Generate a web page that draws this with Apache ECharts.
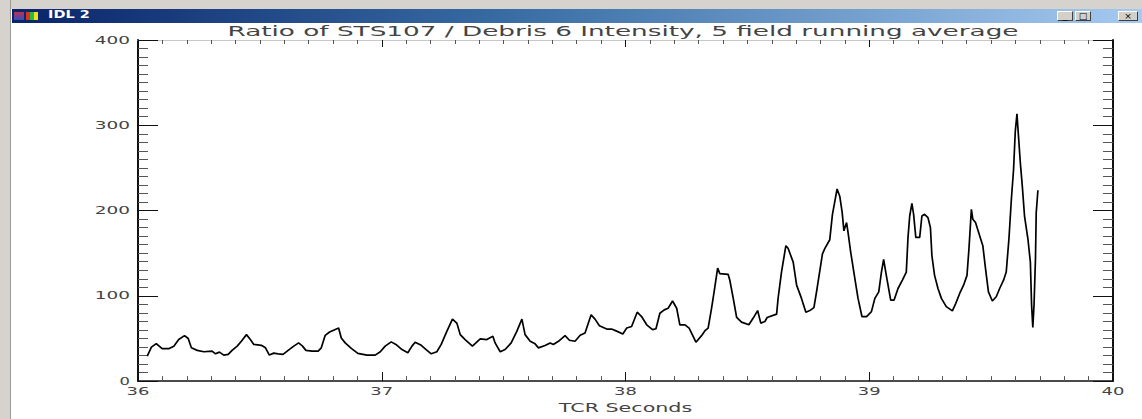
<!DOCTYPE html>
<html>
<head>
<meta charset="utf-8">
<script src="https://cdn.jsdelivr.net/npm/echarts@6/dist/echarts.min.js"></script>
<style>
  html, body { margin: 0; padding: 0; background: #fff; }
  #frame { position: relative; width: 1142px; height: 419px; overflow: hidden; background: #fff; }
  #chart { position: absolute; left: 0; top: 0; width: 1142px; height: 419px; z-index: 1; }
  .chrome { position: absolute; z-index: 2; }
  #edgeTop { left: 0; top: 0; width: 1142px; height: 9px; background: #d6d3ce; }
  #edgeLeft { left: 0; top: 0; width: 10px; height: 419px; background: #d6d3ce; border-right: 1px solid #9a9a9a; }
  #titlebar { left: 12px; top: 9px; width: 1130px; height: 14px;
              background: linear-gradient(to right, #0a246a 0%, #3a6ea5 45%, #a6caf0 100%); }
  #wintitle { left: 48px; top: 9px; height: 14px; line-height: 14px; color: #fff;
              font: bold 10px "DejaVu Sans", sans-serif; transform: scaleX(1.45); transform-origin: left center; }
  #icon { left: 14px; top: 12px; width: 26px; height: 8px; }
  #icon span { position: absolute; top: 0; height: 8px; }
  .btn { top: 11px; height: 10px; background: #d4d0c8; border: 1px solid; border-color: #fff #404040 #404040 #fff;
         box-sizing: border-box; font: 9px "DejaVu Sans", sans-serif; color: #000; text-align: center; line-height: 8px; }
</style>
</head>
<body>
<div id="frame">
  <div id="chart"></div>
  <div class="chrome" id="edgeTop"></div>
  <div class="chrome" id="edgeLeft"></div>
  <div class="chrome" id="titlebar"></div>
  <div class="chrome" id="icon">
    <span style="left:0;width:10px;background:linear-gradient(#c03050,#3050c0);"></span>
    <span style="left:12px;width:4px;background:#e03020;"></span>
    <span style="left:16px;width:4px;background:#20c040;"></span>
    <span style="left:20px;width:4px;background:#f0e020;"></span>
  </div>
  <div class="chrome" id="wintitle">IDL 2</div>
  <div class="chrome btn" style="left:1057px;width:16px;">_</div>
  <div class="chrome btn" style="left:1075px;width:16px;">□</div>
  <div class="chrome btn" style="left:1118px;width:20px;">×</div>
</div>
<script>
// Ratio of STS107 / Debris 6 intensity (5-field running average) versus TCR time
const times = [36.038,36.055,36.075,36.099,36.126,36.147,36.167,36.191,36.206,36.219,36.243,36.270,36.304,36.318,36.334,36.352,36.370,36.386,36.407,36.424,36.445,36.461,36.475,36.506,36.523,36.539,36.557,36.575,36.595,36.616,36.639,36.659,36.675,36.689,36.714,36.739,36.752,36.768,36.786,36.807,36.823,36.834,36.850,36.875,36.902,36.939,36.973,36.994,37.014,37.039,37.058,37.083,37.107,37.124,37.137,37.162,37.182,37.203,37.226,37.244,37.267,37.290,37.308,37.322,37.342,37.372,37.404,37.431,37.456,37.465,37.486,37.506,37.531,37.554,37.575,37.588,37.609,37.629,37.643,37.670,37.691,37.704,37.725,37.752,37.770,37.793,37.814,37.834,37.859,37.875,37.893,37.923,37.943,37.966,37.989,38.005,38.025,38.048,38.066,38.087,38.111,38.125,38.141,38.159,38.175,38.193,38.210,38.223,38.244,38.261,38.289,38.312,38.326,38.339,38.353,38.364,38.378,38.387,38.421,38.428,38.442,38.456,38.476,38.506,38.524,38.542,38.555,38.572,38.581,38.620,38.626,38.640,38.658,38.667,38.688,38.702,38.722,38.740,38.756,38.773,38.786,38.808,38.818,38.838,38.849,38.859,38.868,38.879,38.889,38.896,38.907,38.913,38.924,38.941,38.954,38.970,38.989,39.009,39.023,39.039,39.050,39.059,39.070,39.088,39.102,39.118,39.136,39.152,39.159,39.166,39.175,39.182,39.191,39.207,39.216,39.227,39.241,39.251,39.257,39.268,39.282,39.296,39.316,39.341,39.355,39.371,39.387,39.401,39.409,39.419,39.425,39.436,39.453,39.466,39.477,39.489,39.505,39.521,39.535,39.551,39.562,39.573,39.583,39.592,39.599,39.606,39.611,39.620,39.628,39.637,39.651,39.661,39.666,39.671,39.676,39.682,39.685,39.692];
const ratio = [29.3,39.8,44,38,38,41,48.7,53.3,50,39,36,34.4,35.2,32,34,30.5,31.3,36,41,46.7,54.5,48.7,43,42,39,30.5,32.8,32,31.3,36,41,44.8,41,36,35.2,35.2,39,53.7,57.6,60.3,62.2,50.6,44.8,38.3,32.5,30.5,30.5,34.4,41,46,43,37,33.2,41,45.6,42,37,32,34.4,43,58.3,72.7,68,54.5,48.7,41,49.5,48.7,52.5,44.8,34.4,37,44.8,58.3,72.7,54.5,46.7,43.7,39,41.7,44.8,43,46.7,53.3,47.9,46.7,53.7,56.4,77.7,72.7,65,61,61,58.3,55.3,62.2,64.1,80.8,75.7,66,60.3,61.4,79.6,83.5,85.4,93.9,85.4,66,66,62.2,45.6,53.3,59.1,62.2,85.4,105.5,132.5,126,125.2,118.3,97,74.6,69.2,66,73.9,82.7,68,69.9,74.6,78.5,97,127.9,158.8,155.7,139.5,112.5,97,80.8,82.7,86.1,108.6,149.2,155.7,165.8,195.6,211,225.3,216.8,197.5,176.2,185.9,174.3,151,120.2,97,75.7,75.7,81.5,97,104.7,127.9,142.6,124,95,95,108.6,118.3,127.9,168.5,193.6,208.3,195.6,168.5,168.5,193.6,195.6,191.6,180,147.2,124,108.6,97,87.3,82.3,91.2,102.8,112.5,124,155,201.4,189.8,185.9,170.4,158.8,131.8,104.7,93.9,98.9,108.6,118.3,127.9,166.6,213,247.8,292.2,313.4,292.2,255.4,228.4,193.6,166.6,139.5,89.3,63,89.3,144.1,197.5,223.8];

const xRange = [36, 40];
const yRange = [0, 400];
const plotTitle = 'Ratio of STS107 / Debris 6 Intensity, 5 field running average';
const xName = 'TCR Seconds';

const FONT = '"DejaVu Sans", "Liberation Sans", sans-serif';
const INK = '#111';
const TEXT_INK = '#444';

function frameAxis(kind, pos, withLabels) {
  const isX = kind === 'x';
  const isTop = pos === 'top';
  return {
    type: 'value',
    position: pos,
    min: isX ? xRange[0] : yRange[0],
    max: isX ? xRange[1] : yRange[1],
    interval: isX ? 1 : 100,
    axisLine: { show: true, onZero: false,
                lineStyle: { color: isTop ? '#c8c8c8' : INK, width: isX ? (isTop ? 1 : 1.5) : 2 } },
    axisTick: { show: true, inside: true, length: isX ? (isTop ? 7 : 9) : 20, lineStyle: { color: INK, width: 1 } },
    minorTick: { show: true, splitNumber: 10, length: isX ? (isTop ? 4 : 5) : 10,
                 lineStyle: { color: '#555', width: 1 } },
    splitLine: { show: false },
    minorSplitLine: { show: false },
    axisLabel: {
      show: withLabels, color: TEXT_INK, fontFamily: FONT, fontSize: 10,
      margin: isX ? 5 : 8
    }
  };
}

const xBottom = frameAxis('x', 'bottom', true);
xBottom.name = xName;
xBottom.nameLocation = 'middle';
xBottom.nameGap = 13;
xBottom.nameTextStyle = { color: TEXT_INK, fontFamily: FONT, fontSize: 13, verticalAlign: 'top' };

const chart = echarts.init(document.getElementById('chart'), null, { renderer: 'svg', width: 1142, height: 419 });
chart.setOption({
  animation: false,
  backgroundColor: 'transparent',
  grid: { left: 138, right: 29, top: 40, bottom: 32, containLabel: false },
  xAxis: [xBottom, frameAxis('x', 'top', false)],
  yAxis: [frameAxis('y', 'left', true), frameAxis('y', 'right', false)],
  graphic: [{
    type: 'text', x: 623, y: 31,
    style: { text: plotTitle, fill: TEXT_INK, font: '14px ' + FONT, textAlign: 'center', textVerticalAlign: 'middle' }
  }],
  series: [{
    type: 'line',
    data: times.map((t, i) => [t, ratio[i]]),
    showSymbol: false,
    symbol: 'none',
    lineStyle: { color: '#000', width: 1.7 },
    silent: true
  }]
});

// The vector-style lettering is wide and evenly pitched: stretch each label to its character pitch.
const PITCH = { 14: 13.0, 13: 12.3, 10: 12.4 };
function stretchText() {
  document.querySelectorAll('#chart svg text').forEach(el => {
    const s = el.textContent;
    if (!s) return;
    const fs = Math.round(parseFloat(getComputedStyle(el).fontSize) || 10);
    const p = PITCH[fs] || 12.4;
    el.setAttribute('textLength', (s.length * p - 2).toFixed(1));
    el.setAttribute('lengthAdjust', 'spacingAndGlyphs');
  });
}
chart.on('finished', stretchText);
stretchText();
requestAnimationFrame(stretchText);
setTimeout(stretchText, 30);
</script>
</body>
</html>
